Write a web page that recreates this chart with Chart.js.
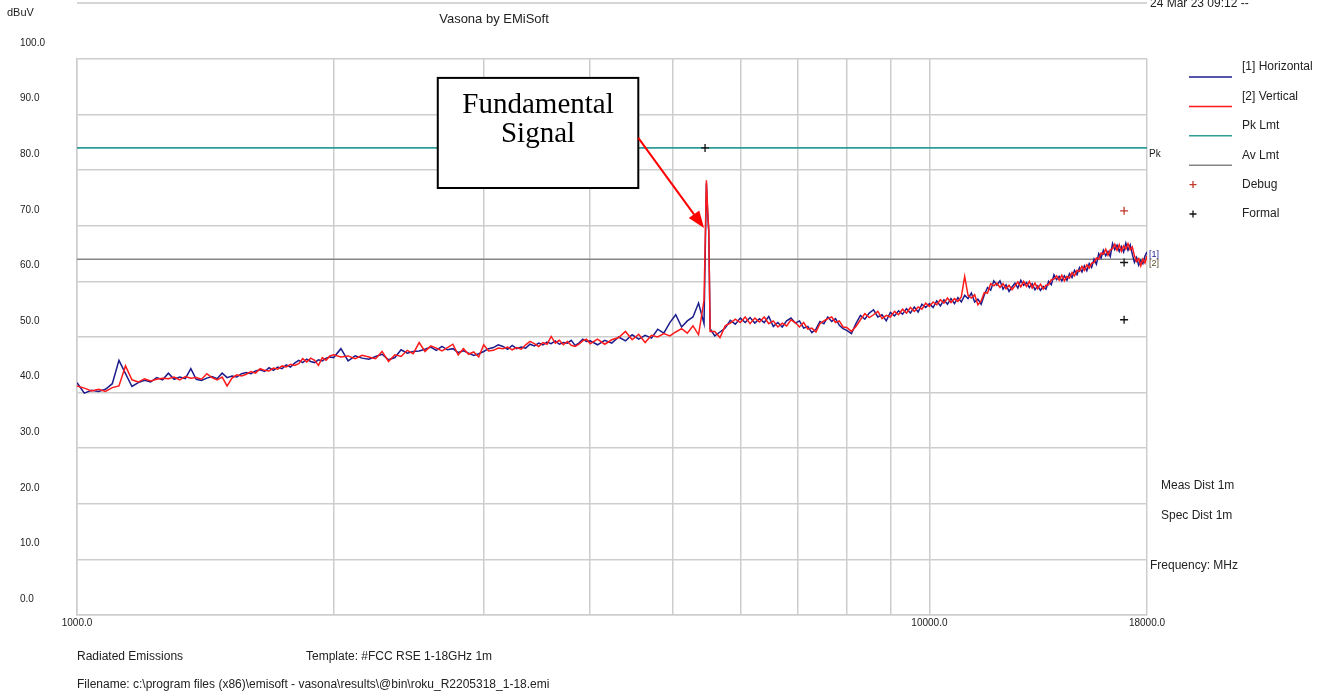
<!DOCTYPE html>
<html>
<head>
<meta charset="utf-8">
<title>Vasona by EMiSoft</title>
<script src="https://cdn.jsdelivr.net/npm/chart.js@4.4.1/dist/chart.umd.min.js"></script>
<style>
  html, body { margin: 0; padding: 0; background: #fff; }
  #wrap { width: 1320px; height: 696px; }
</style>
</head>
<body>
<div id="wrap"><canvas id="emiChart" width="1320" height="696"></canvas></div>
<script>
// sweep frequencies (MHz), shared by both polarisations
const FREQ_MHZ = [
  1000, 1020, 1040, 1060, 1080, 1100, 1120, 1140, 1160, 1180,
  1200, 1220, 1240, 1260, 1280, 1300, 1320, 1340, 1360, 1380,
  1400, 1420, 1440, 1460, 1480, 1500, 1520, 1540, 1560, 1580,
  1600, 1620, 1640, 1660, 1680, 1700, 1720, 1740, 1760, 1780,
  1800, 1820, 1840, 1860, 1880, 1900, 1920, 1940, 1960, 1980,
  2000, 2040, 2080, 2120, 2160, 2200, 2240, 2280, 2320, 2360,
  2400, 2440, 2480, 2520, 2560, 2600, 2640, 2680, 2720, 2760,
  2800, 2840, 2880, 2920, 2960, 3000, 3040, 3080, 3120, 3160,
  3200, 3240, 3280, 3320, 3360, 3400, 3440, 3480, 3520, 3560,
  3600, 3640, 3680, 3720, 3760, 3800, 3840, 3880, 3920, 3960,
  4000, 4080, 4160, 4240, 4320, 4400, 4480, 4560, 4640, 4720,
  4800, 4880, 4960, 5040, 5120, 5200, 5280, 5360, 5440,
  5475, 5495, 5510, 5530,
  5600, 5680, 5760, 5840, 5920, 6000, 6080, 6160, 6240, 6320,
  6400, 6480, 6560, 6640, 6720, 6800, 6880, 6960, 7040, 7120,
  7200, 7280, 7360, 7440, 7520, 7600, 7680, 7760, 7840, 7920,
  8000, 8100, 8200, 8300, 8400, 8500, 8600, 8700, 8800, 8900,
  9000, 9100, 9200, 9300, 9400, 9500, 9600, 9700, 9800, 9900,
  10000, 10100, 10200, 10300, 10400, 10500, 10600, 10700, 10800, 10900,
  11000, 11100, 11200, 11300, 11400, 11500, 11600, 11700, 11800, 11900,
  12000,
  12100, 12200, 12300, 12400, 12500, 12600, 12700, 12800, 12900, 13000,
  13100, 13200, 13300, 13400, 13500, 13600, 13700, 13800, 13900, 14000,
  14100, 14200, 14300, 14400, 14500, 14600, 14700, 14800, 14900, 15000,
  15100, 15200, 15300, 15400, 15500, 15600, 15700, 15800, 15900, 16000,
  16100, 16200, 16300, 16400, 16500, 16600, 16700, 16800, 16900, 17000,
  17100, 17200, 17300, 17400, 17500, 17600, 17700, 17800, 17900, 18000
];

// [1] Horizontal, dBuV
const HORIZONTAL_DBUV = [
  41.8, 39.9, 40.4, 40.2, 40.6, 41.6, 45.8, 43.4, 41.1, 41.8,
  42.2, 41.9, 42.7, 42.3, 43.5, 42.4, 42.8, 42.5, 44.3, 42.4,
  42.2, 42.6, 42.9, 42.5, 43.5, 42.7, 43.0, 42.8, 43.4, 43.6,
  43.4, 43.9, 44.1, 43.8, 44.5, 44.0, 44.6, 44.3, 45.0, 44.6,
  45.3, 45.8, 45.4, 46.0, 45.6, 45.4, 45.9, 45.7, 46.2, 46.4,
  46.3, 47.9, 45.7, 46.6, 46.2, 46.0, 46.5, 46.9, 45.9, 46.3,
  47.7, 47.1, 47.4, 47.5, 47.8, 48.2, 47.6, 48.3, 47.7, 47.9,
  47.2, 47.5, 47.1, 46.7, 47.0, 47.4, 47.9, 48.1, 48.6, 48.3,
  47.8, 48.5, 47.9, 48.2, 48.0, 48.7, 48.4, 48.9, 48.6, 49.1,
  48.8, 49.3, 48.7, 49.0, 48.9, 49.4, 48.5, 48.9, 49.6, 49.2,
  49.3, 48.6, 49.4, 48.9, 50.0, 49.3, 50.4, 49.6, 50.3, 49.8,
  51.4, 50.7, 52.6, 54.0, 51.8, 52.9, 53.6, 56.1, 52.4,
  77.6, 72.0, 69.0, 51.5,
  50.2, 50.9, 51.6, 53.0, 52.3, 53.4, 52.6, 53.5, 52.5, 53.3,
  52.6, 53.7, 51.9, 52.6, 51.8, 52.9, 53.4, 52.5, 52.9, 51.6,
  51.9, 50.8, 51.4, 52.8, 52.4, 53.6, 52.8, 53.3, 52.1, 51.5,
  51.2, 50.6, 52.4, 53.9, 53.2, 54.3, 54.9, 53.6, 54.0, 52.9,
  54.4, 53.8, 54.7, 54.1, 55.1, 54.3, 55.4, 54.5, 55.9, 55.3,
  56.0, 55.3, 56.5, 55.6, 56.7, 55.9, 56.9, 56.0, 57.1, 56.3,
  57.5, 56.9, 57.9, 56.3, 56.8, 55.9, 57.6, 58.9, 58.4, 60.1,
  59.3,
  60.1, 58.6, 59.4, 58.2, 59.0, 59.7, 58.8, 60.2, 59.3, 59.8,
  58.9, 59.6, 58.5, 59.2, 58.4, 59.1, 58.6, 60.0, 59.4, 61.2,
  60.3, 60.9, 60.1, 61.0, 60.2, 61.4, 60.7, 62.0, 61.2, 62.5,
  61.7, 62.8, 61.9, 63.2, 62.5, 64.0, 63.1, 65.0, 64.2, 65.6,
  64.6, 65.4, 64.5, 66.8, 65.7, 66.5, 65.4, 66.3, 65.3, 66.9,
  65.6, 66.6, 64.9, 63.4, 64.3, 62.9, 63.8, 63.2, 64.5, 65.3
];

// [2] Vertical, dBuV
const VERTICAL_DBUV = [
  41.2, 40.8, 40.3, 40.6, 40.2, 40.9, 41.2, 44.8, 42.3, 41.9,
  42.5, 42.1, 42.4, 42.6, 42.5, 42.8, 42.3, 42.9, 42.6, 42.7,
  42.4, 43.4, 42.7, 42.3, 42.8, 41.2, 42.6, 43.2, 43.0, 43.3,
  43.8, 43.5, 44.3, 44.0, 43.9, 44.4, 44.2, 44.8, 44.6, 45.1,
  44.9, 45.2, 46.1, 45.5, 46.2, 45.8, 44.9, 46.3, 45.8, 46.6,
  46.8, 46.4, 46.6, 46.1, 46.7, 46.4, 46.1, 47.4, 45.6, 46.8,
  46.5, 47.6, 47.0, 49.0, 47.4, 48.4, 48.0, 47.5, 48.1, 48.7,
  46.8, 47.9, 46.9, 47.3, 46.4, 48.6, 47.5, 47.6, 48.0, 47.9,
  48.2, 47.7, 48.1, 47.8, 48.6, 49.2, 48.8, 48.3, 49.0, 48.7,
  50.1, 48.9, 49.4, 48.6, 49.2, 48.5, 48.3, 48.7, 49.3, 49.6,
  48.8, 49.6, 48.7, 49.5, 49.9, 51.0, 49.5, 50.5, 49.0, 50.3,
  50.0, 50.6, 50.2, 50.9, 51.5, 50.7, 52.0, 50.4, 56.6,
  78.2, 72.5, 69.2, 51.0,
  51.0, 49.9, 52.0, 52.5, 53.2, 52.6, 53.6, 52.4, 53.4, 52.7,
  53.6, 52.4, 52.9, 51.8, 52.5, 52.0, 53.1, 52.6, 51.8, 52.6,
  51.4, 51.6, 50.9, 52.4, 52.9, 53.3, 53.6, 52.6, 52.9, 51.8,
  51.7, 51.0, 51.9, 53.1, 54.2, 53.5, 54.0, 54.6, 53.3, 53.9,
  53.6, 54.6, 54.0, 55.0, 54.3, 55.3, 54.6, 55.4, 55.0, 56.1,
  55.5, 56.3, 55.8, 56.7, 56.1, 57.0, 56.2, 56.9, 56.4, 57.2,
  60.9, 57.5, 57.0, 57.6, 55.8, 56.5, 58.0, 57.9, 59.6, 59.2,
  59.7,
  58.9, 59.6, 58.7, 59.3, 58.5, 59.2, 59.9, 59.0, 60.0, 59.1,
  60.0, 58.8, 59.7, 58.7, 59.5, 58.6, 59.3, 59.4, 60.3, 60.4,
  61.0, 60.2, 61.1, 60.1, 60.9, 60.6, 61.6, 61.0, 62.0, 61.8,
  62.7, 62.0, 63.0, 62.4, 63.3, 63.4, 64.2, 64.0, 65.1, 64.9,
  65.8, 64.7, 65.7, 65.9, 66.7, 65.6, 66.6, 65.4, 66.4, 65.8,
  66.8, 65.7, 66.2, 64.6, 63.6, 64.1, 62.8, 64.0, 63.3, 64.6
];

const PK_LIMIT_DBUV = 84.0;
const AV_LIMIT_DBUV = 64.0;

const DEBUG_FREQ = [16920];
const DEBUG_DBUV = [72.7];
const FORMAL_FREQ = [5455, 16920, 16920];
const FORMAL_DBUV = [84.0, 63.4, 53.1];

const X_GRID_MHZ = [1000, 2000, 3000, 4000, 5000, 6000, 7000, 8000, 9000, 10000, 18000];
const X_LABELLED_MHZ = [1000, 10000, 18000];

const SANS = '"Liberation Sans", Arial, sans-serif';
const SERIF = '"Liberation Serif", "Times New Roman", serif';
const TEXT = '#222';
const GRID = '#cdcdcd';

const C_HORIZ = '#1c1c8c';
const C_VERT = '#ff1a1a';
const C_PK = '#2e9c98';
const C_AV = '#858585';
const C_DEBUG = '#c0392b';
const C_FORMAL = '#111';

function pts(xs, ys) {
  return xs.map((f, i) => ({ x: f, y: ys[i] }));
}

const LEGEND = [
  { label: '[1] Horizontal', kind: 'line', color: C_HORIZ },
  { label: '[2] Vertical', kind: 'line', color: C_VERT },
  { label: 'Pk Lmt', kind: 'line', color: C_PK },
  { label: 'Av Lmt', kind: 'line', color: C_AV },
  { label: 'Debug', kind: 'cross', color: C_DEBUG },
  { label: 'Formal', kind: 'cross', color: C_FORMAL },
];

// call-out box, placed in data units
const CALLOUT = { f0: 2650, f1: 4555, top: 96.6, bottom: 76.8 };
const ARROW = { f0: 4555, v0: 85.8, f1: 5440, v1: 69.6 };

function drawCross(ctx, x, y, r, color) {
  ctx.strokeStyle = color;
  ctx.lineWidth = 1.3;
  ctx.beginPath();
  ctx.moveTo(x - r, y); ctx.lineTo(x + r, y);
  ctx.moveTo(x, y - r); ctx.lineTo(x, y + r);
  ctx.stroke();
}

const overlay = {
  id: 'overlay',
  beforeDraw(chart) {
    const ctx = chart.ctx;
    ctx.save();
    ctx.fillStyle = '#fff';
    ctx.fillRect(0, 0, chart.width, chart.height);
    ctx.restore();
  },
  afterDraw(chart) {
    const { ctx } = chart;
    const x = chart.scales.x, y = chart.scales.y;
    ctx.save();

    // header
    ctx.strokeStyle = '#c8c8c8';
    ctx.lineWidth = 1.5;
    ctx.beginPath(); ctx.moveTo(x.left, 3); ctx.lineTo(x.right, 3); ctx.stroke();
    ctx.fillStyle = TEXT;
    ctx.textBaseline = 'middle';
    ctx.textAlign = 'left';
    ctx.font = '11px ' + SANS;
    ctx.fillText('dBuV', 7, 13);
    ctx.font = '13px ' + SANS;
    ctx.textAlign = 'center';
    ctx.fillText('Vasona by EMiSoft', 494, 19);
    ctx.textAlign = 'left';
    ctx.textBaseline = 'alphabetic';
    ctx.font = '12px ' + SANS;
    ctx.fillText('24 Mar 23 09:12 --', 1150, 7);

    // labels at the right edge of the plot
    ctx.textBaseline = 'middle';
    ctx.font = '10px ' + SANS;
    ctx.fillText('Pk', x.right + 2, y.getPixelForValue(PK_LIMIT_DBUV) + 6);
    ctx.font = '9px ' + SANS;
    const last = FREQ_MHZ.length - 1;
    ctx.fillStyle = C_HORIZ;
    ctx.fillText('[1]', x.right + 2, y.getPixelForValue(HORIZONTAL_DBUV[last]) + 3);
    ctx.fillStyle = '#5a4a2a';
    ctx.fillText('[2]', x.right + 2, y.getPixelForValue(VERTICAL_DBUV[last]) + 8);

    // legend
    ctx.font = '12px ' + SANS;
    LEGEND.forEach((it, i) => {
      const ly = 67 + i * 29.4;
      ctx.fillStyle = TEXT;
      ctx.fillText(it.label, 1242, ly);
      if (it.kind === 'line') {
        ctx.strokeStyle = it.color;
        ctx.lineWidth = 1.5;
        ctx.beginPath(); ctx.moveTo(1189, ly + 10); ctx.lineTo(1232, ly + 10); ctx.stroke();
      } else {
        drawCross(ctx, 1193, ly, 3.5, it.color);
      }
    });

    // side notes
    ctx.fillStyle = TEXT;
    ctx.fillText('Meas Dist 1m', 1161, 486);
    ctx.fillText('Spec Dist 1m', 1161, 516);
    ctx.fillText('Frequency: MHz', 1150, 566);

    // footer
    ctx.fillText('Radiated Emissions', 77, 657);
    ctx.fillText('Template: #FCC RSE 1-18GHz 1m', 306, 657);
    ctx.fillText('Filename: c:\\program files (x86)\\emisoft - vasona\\results\\@bin\\roku_R2205318_1-18.emi', 77, 685);

    // call-out box
    const bx0 = x.getPixelForValue(CALLOUT.f0), bx1 = x.getPixelForValue(CALLOUT.f1);
    const by0 = y.getPixelForValue(CALLOUT.top), by1 = y.getPixelForValue(CALLOUT.bottom);
    ctx.fillStyle = '#fff';
    ctx.fillRect(bx0, by0, bx1 - bx0, by1 - by0);
    ctx.strokeStyle = '#000';
    ctx.lineWidth = 2;
    ctx.strokeRect(bx0, by0, bx1 - bx0, by1 - by0);
    ctx.fillStyle = '#000';
    ctx.font = '29px ' + SERIF;
    ctx.textAlign = 'center';
    ctx.textBaseline = 'alphabetic';
    const cx = (bx0 + bx1) / 2;
    ctx.fillText('Fundamental', cx, by0 + 35);
    ctx.fillText('Signal', cx, by0 + 64);

    // arrow
    const ax0 = x.getPixelForValue(ARROW.f0), ay0 = y.getPixelForValue(ARROW.v0);
    const ax1 = x.getPixelForValue(ARROW.f1), ay1 = y.getPixelForValue(ARROW.v1);
    const ang = Math.atan2(ay1 - ay0, ax1 - ax0);
    const head = 17, half = 6.5;
    const hx = ax1 - head * Math.cos(ang), hy = ay1 - head * Math.sin(ang);
    ctx.strokeStyle = '#ff0000';
    ctx.fillStyle = '#ff0000';
    ctx.lineWidth = 2;
    ctx.beginPath(); ctx.moveTo(ax0, ay0); ctx.lineTo(hx, hy); ctx.stroke();
    ctx.beginPath();
    ctx.moveTo(ax1, ay1);
    ctx.lineTo(hx + half * Math.sin(ang), hy - half * Math.cos(ang));
    ctx.lineTo(hx - half * Math.sin(ang), hy + half * Math.cos(ang));
    ctx.closePath();
    ctx.fill();

    ctx.restore();
  }
};

new Chart(document.getElementById('emiChart'), {
  type: 'line',
  data: {
    datasets: [
      { label: '[1] Horizontal', data: pts(FREQ_MHZ, HORIZONTAL_DBUV), borderColor: C_HORIZ, borderWidth: 1.5, pointRadius: 0, order: 2 },
      { label: '[2] Vertical', data: pts(FREQ_MHZ, VERTICAL_DBUV), borderColor: C_VERT, borderWidth: 1.5, pointRadius: 0, order: 1 },
      { label: 'Pk Lmt', data: pts([1000, 18000], [PK_LIMIT_DBUV, PK_LIMIT_DBUV]), borderColor: C_PK, borderWidth: 1.8, pointRadius: 0, order: 3 },
      { label: 'Av Lmt', data: pts([1000, 18000], [AV_LIMIT_DBUV, AV_LIMIT_DBUV]), borderColor: C_AV, borderWidth: 1.5, pointRadius: 0, order: 3 },
      { label: 'Debug', data: pts(DEBUG_FREQ, DEBUG_DBUV), showLine: false, pointStyle: 'cross', pointRadius: 4, borderColor: C_DEBUG, borderWidth: 1.3, order: 0 },
      { label: 'Formal', data: pts(FORMAL_FREQ, FORMAL_DBUV), showLine: false, pointStyle: 'cross', pointRadius: 4, borderColor: C_FORMAL, borderWidth: 1.3, order: 0 },
    ],
  },
  options: {
    responsive: false,
    animation: false,
    layout: { padding: { left: 20, top: 59, right: 173, bottom: 61 } },
    plugins: { legend: { display: false }, tooltip: { enabled: false } },
    scales: {
      x: {
        type: 'logarithmic',
        min: 1000,
        max: 18000,
        afterBuildTicks: s => { s.ticks = X_GRID_MHZ.map(v => ({ value: v })); },
        afterFit: s => { s.height = 20; },
        grid: { color: GRID, lineWidth: 1.5, drawTicks: false },
        border: { color: GRID, width: 1.5 },
        ticks: {
          autoSkip: false, maxRotation: 0, minRotation: 0, padding: 2,
          color: TEXT, font: { family: SANS, size: 10 },
          callback: v => X_LABELLED_MHZ.includes(v) ? v.toFixed(1) : '',
        },
      },
      y: {
        min: 0,
        max: 100,
        afterFit: s => { s.width = 57; },
        grid: { color: GRID, lineWidth: 1.5, drawTicks: false },
        border: { color: GRID, width: 1.5 },
        ticks: {
          stepSize: 10, crossAlign: 'far', labelOffset: -16, padding: 0,
          color: TEXT, font: { family: SANS, size: 10 },
          callback: v => v.toFixed(1),
        },
      },
    },
  },
  plugins: [overlay],
});
</script>
</body>
</html>
